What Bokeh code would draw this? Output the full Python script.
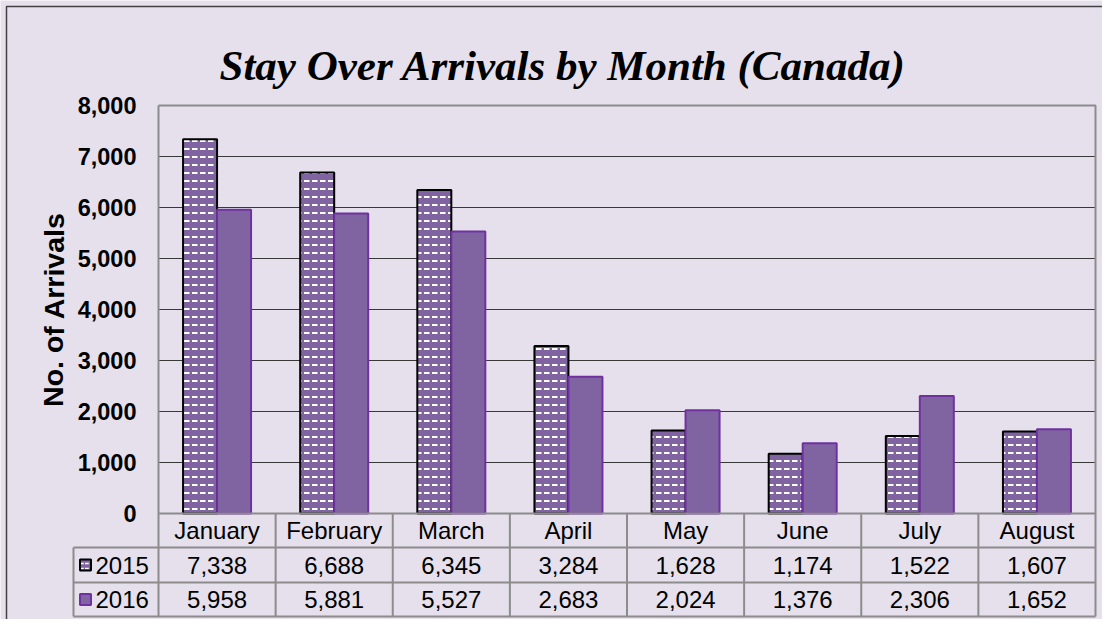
from bokeh.plotting import figure
from bokeh.models import Range1d
from bokeh.core.properties import value
from bokeh.embed import file_html
from bokeh.resources import INLINE

# ---------------- data ----------------
months = ["January", "February", "March", "April", "May", "June", "July", "August"]
series_names = ["2015", "2016"]
v2015 = [7338, 6688, 6345, 3284, 1628, 1174, 1522, 1607]
v2016 = [5958, 5881, 5527, 2683, 2024, 1376, 2306, 1652]
y_ticks = [0, 1000, 2000, 3000, 4000, 5000, 6000, 7000, 8000]
title_text = "Stay Over Arrivals by Month (Canada)"
y_title = "No. of Arrivals"

# ---------------- layout constants (image pixel geometry) ----------------
W, H = 1102, 619
OX, OY = 1, 1                     # observed canvas origin in the picture
PL, PR = 159, 1096                # plot area left / right (px)
PT, PB = 106, 514                 # plot area top (8000) / bottom (0)
YMAX = 8000
U = (PR - PL) / len(months)       # px per category
ROWS = [514, 548, 583, 617]       # table row boundaries (px)
TL = 74                           # table left edge

def X(px):
    return (px - PL) / U

def Y(py):
    return (PB - py) / (PB - PT) * YMAX

BG = "#E5E0EC"
PURPLE = "#8064A2"
PURPLE_EDGE = "#7030A0"
GRID = "#383838"
TABLE = "#8C8C8C"

p = figure(width=W, height=H, output_backend="svg", toolbar_location=None,
           x_range=Range1d(X(OX), X(OX + W)), y_range=Range1d(Y(OY + H), Y(OY)),
           x_axis_type=None, y_axis_type=None, min_border=0,
           background_fill_color=BG, border_fill_color=BG, outline_line_color=None)
p.xgrid.visible = False
p.ygrid.visible = False

n = len(months)
centers = [i + 0.5 for i in range(n)]
bw = 34 / U

# gridlines 1000..7000
for t in y_ticks[1:-1]:
    p.line([0, n], [t, t], line_color=GRID, line_width=1.2)

# bars
x15 = [c - bw / 2 for c in centers]
x16 = [c + bw / 2 for c in centers]
p.vbar(x=x15, top=v2015, bottom=0, width=bw, fill_color=PURPLE,
       hatch_pattern="horizontal_dash", hatch_color="white", hatch_scale=8,
       hatch_weight=2, line_color="black", line_width=2)
p.vbar(x=x16, top=v2016, bottom=0, width=bw, fill_color=PURPLE,
       line_color=PURPLE_EDGE, line_width=2)

# plot area border (top, right, left) and axis line
p.line([0, n, n], [YMAX, YMAX, Y(ROWS[-1])], line_color=TABLE, line_width=2)
p.line([0, 0], [YMAX, Y(ROWS[-1])], line_color=TABLE, line_width=2)
p.line([0, n], [0, 0], line_color=TABLE, line_width=2)

# table lines
for r in ROWS[1:]:
    p.line([X(TL), n], [Y(r), Y(r)], line_color=TABLE, line_width=2)
p.line([X(TL), X(TL)], [Y(ROWS[1]), Y(ROWS[-1])], line_color=TABLE, line_width=2)
for k in range(1, n):
    p.line([k, k], [0, Y(ROWS[-1])], line_color=TABLE, line_width=2)

# outer chart border (left, top)
p.line([X(7), X(7), X(OX + W)], [Y(OY + H), Y(7), Y(7)], line_color="#404040", line_width=1.5)

font = value("Liberation Sans")
row_c = [(ROWS[i] + ROWS[i + 1]) / 2 for i in range(3)]

# month row
p.text(x=centers, y=[Y(row_c[0])] * n, text=months, text_font=font,
       text_font_size=value("24px"), text_align="center", text_baseline="middle",
       text_color="black")
# value rows
for vals, rc in ((v2015, row_c[1]), (v2016, row_c[2])):
    p.text(x=centers, y=[Y(rc)] * n, text=[f"{v:,}" for v in vals], text_font=font,
           text_font_size=value("24px"), text_align="center", text_baseline="middle",
           text_color="black")

# legend keys in table
p.rect(x=[X(86)], y=[Y(row_c[1])], width=11, height=11, width_units="screen",
       height_units="screen", fill_color=PURPLE, hatch_pattern="horizontal_dash",
       hatch_color="white", hatch_scale=5, hatch_weight=1.5,
       line_color="black", line_width=2)
p.rect(x=[X(86)], y=[Y(row_c[2])], width=11, height=11, width_units="screen",
       height_units="screen", fill_color=PURPLE, line_color=PURPLE_EDGE, line_width=2)
p.text(x=[X(96)] * 2, y=[Y(row_c[1]), Y(row_c[2])], text=series_names, text_font=font,
       text_font_size=value("24px"), text_align="left", text_baseline="middle",
       text_color="black")

# y tick labels
p.text(x=[X(137)] * len(y_ticks), y=y_ticks, text=[f"{t:,}" for t in y_ticks],
       text_font=font, text_font_size=value("23.5px"), text_font_style="bold",
       text_align="right", text_baseline="middle", text_color="black")

# y-axis title
p.text(x=[X(54)], y=[YMAX / 2], text=[y_title], angle=1.5707963, text_font=font,
       text_font_size=value("28.5px"), text_font_style="bold", text_align="center",
       text_baseline="middle", text_color="black")

# chart title
p.text(x=[X(220)], y=[Y(66)], text=[title_text], text_font=value("Liberation Serif"),
       text_font_size=value("43px"), text_font_style="bold italic", text_align="left",
       text_baseline="alphabetic", text_color="black")

open("out.html", "w").write(file_html(p, INLINE))
